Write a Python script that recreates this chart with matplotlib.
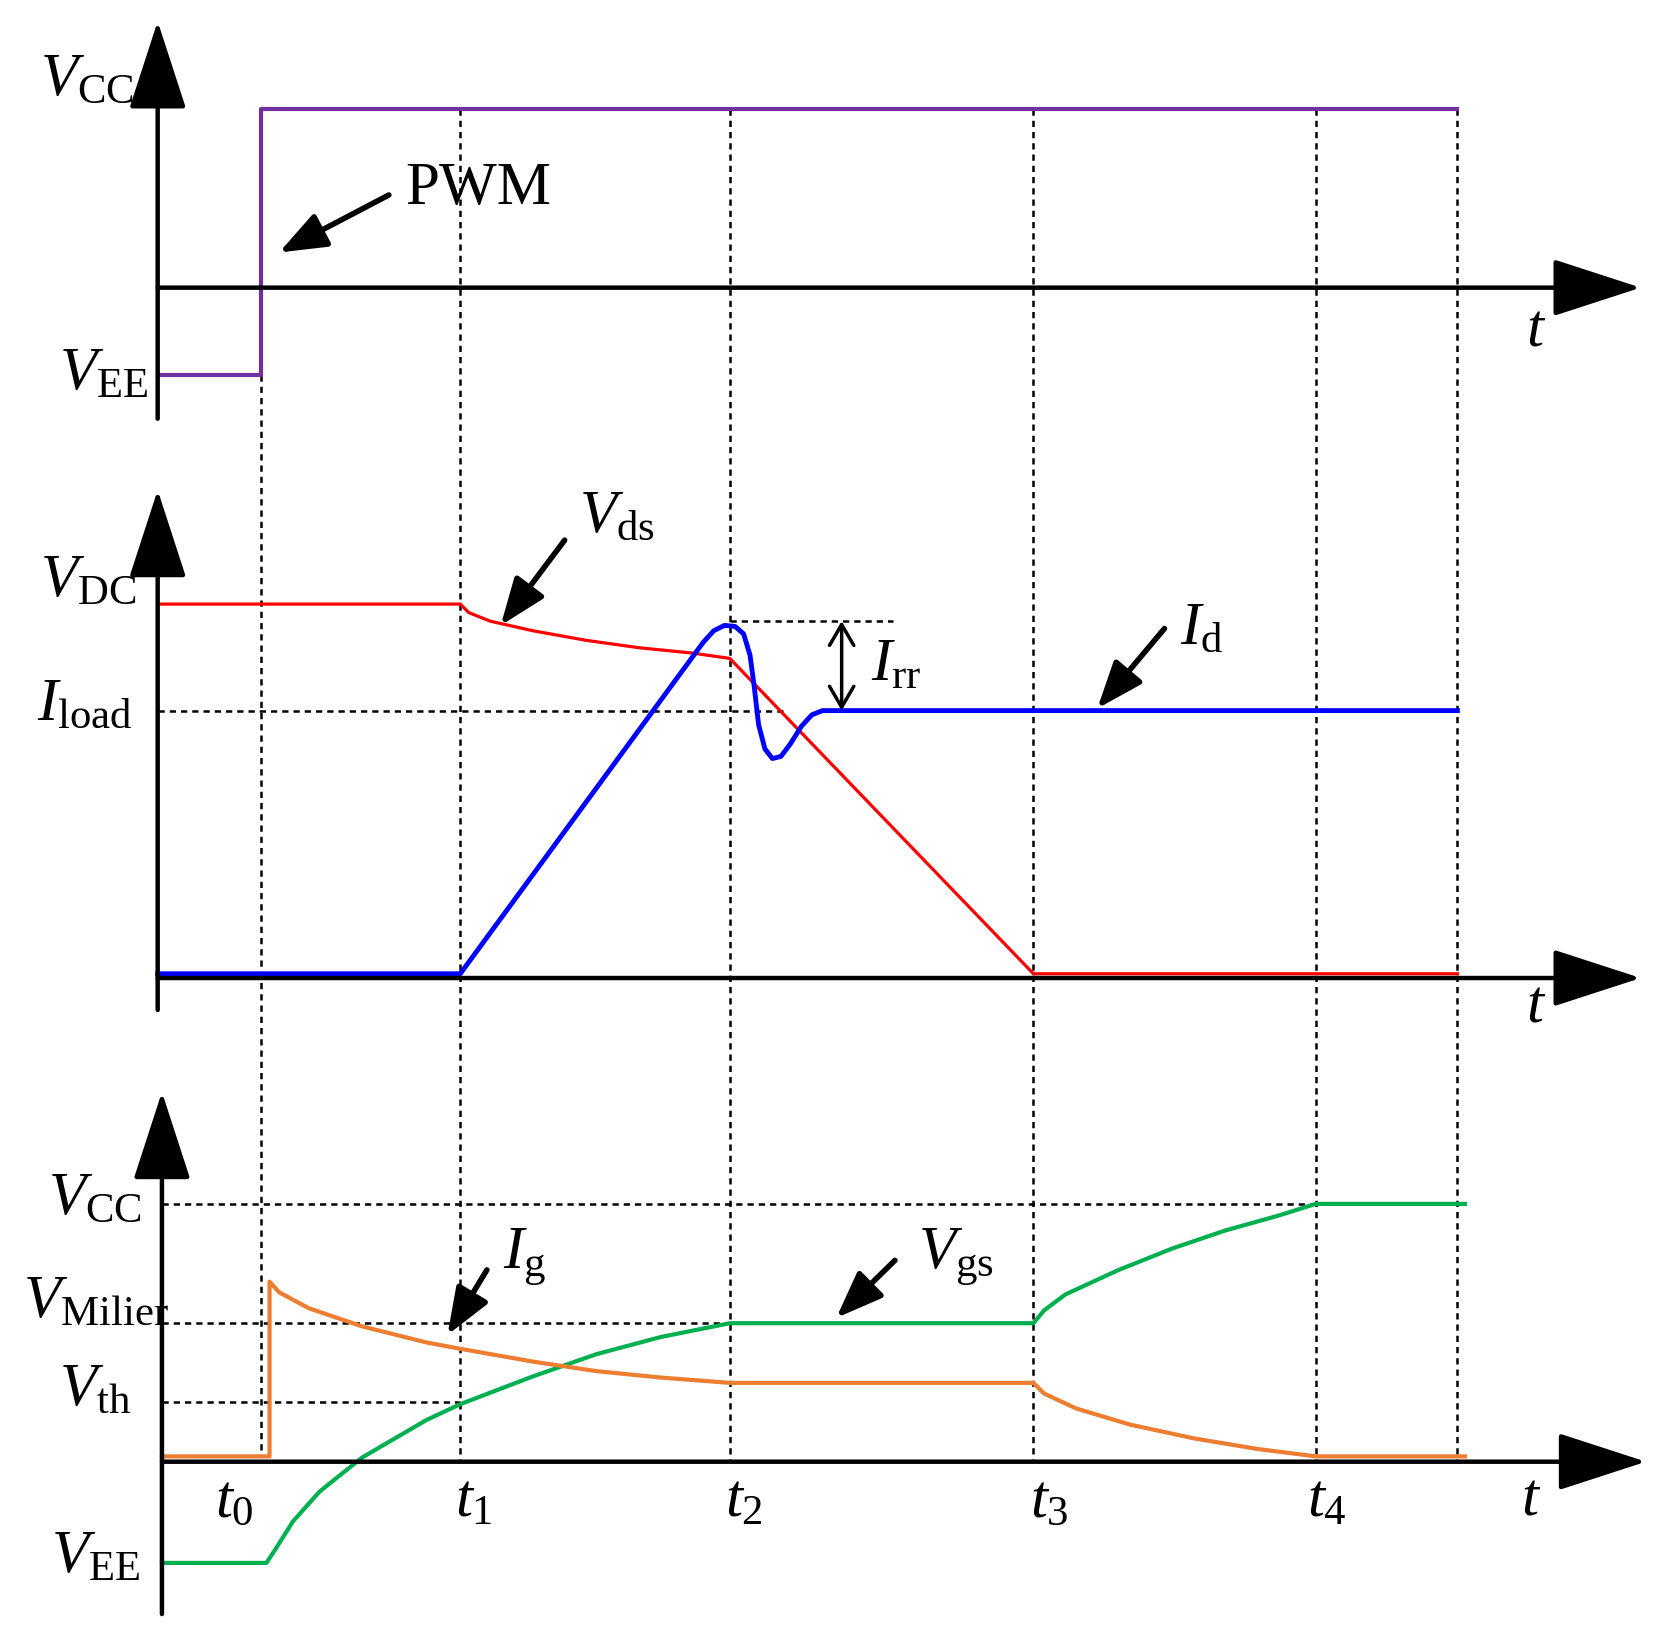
import matplotlib
matplotlib.use("Agg")
import matplotlib.pyplot as plt

plt.rcParams['mathtext.fontset'] = 'custom'
plt.rcParams['mathtext.rm'] = 'Liberation Serif'
plt.rcParams['mathtext.it'] = 'Liberation Serif:italic'
plt.rcParams['font.family'] = 'Liberation Serif'

# Key time instants (x positions) and end of traces
t_marks = [245, 432, 685, 970, 1235, 1368]
t_labels = ['$t_0$', '$t_1$', '$t_2$', '$t_3$', '$t_4$']
t_label_x = [220, 445, 698, 985, 1245]

# Panel 1: PWM
pwm_x = [148, 245, 245, 1368]
pwm_y = [352, 352, 102, 102]

# Panel 2: Vds and Id
vds_x = [148, 432, 440, 460, 500, 550, 600, 650, 685, 970, 1368]
vds_y = [567, 567, 575, 583, 592, 601, 608, 613, 618, 914, 914]
id_x = [148, 432, 660, 670, 680, 690, 698, 704, 708, 712, 718, 725, 733, 742, 752, 762, 772, 1368]
id_y = [914, 914, 603, 592, 587, 588, 595, 615, 645, 680, 703, 712, 710, 698, 682, 671, 667, 667]

# Panel 3: Vgs and Ig
vgs_x = [152, 250, 258, 275, 300, 340, 400, 432, 500, 560, 620, 685, 970, 980, 1000, 1050, 1100, 1150, 1200, 1235, 1375]
vgs_y = [1467, 1467, 1455, 1428, 1400, 1368, 1333, 1318, 1292, 1271, 1255, 1242, 1242, 1230, 1215, 1192, 1172, 1155, 1141, 1130, 1130]
ig_x = [152, 253, 253, 262, 290, 340, 400, 432, 500, 560, 620, 685, 970, 980, 1010, 1060, 1120, 1180, 1235, 1375]
ig_y = [1367, 1367, 1203, 1213, 1228, 1245, 1260, 1266, 1278, 1287, 1293, 1298, 1298, 1308, 1322, 1337, 1350, 1360, 1367, 1367]

fig = plt.figure(figsize=(16.62, 16.25), dpi=100)
ax = fig.add_axes([0, 0, 1, 1])
S = 1560 / 1662
ax.set_xlim(0, 1662 * S)
ax.set_ylim(1625 * S, 0)
ax.axis('off')

K = 'black'
dash = dict(color=K, lw=1.8, ls=(0, (2.5, 2)))

ax.plot([245, 245], [352, 1367], **dash)
for x in t_marks[1:]:
    ax.plot([x, x], [102, 1370], **dash)
ax.plot([148, 740], [667, 667], **dash)
ax.plot([685, 838], [583, 583], **dash)
ax.plot([152, 1235], [1130, 1130], **dash)
ax.plot([152, 685], [1242, 1242], **dash)
ax.plot([152, 432], [1316, 1316], **dash)

def axis_arrow(x0, y0, x1, y1):
    ax.annotate('', xy=(x1, y1), xytext=(x0, y0),
                arrowprops=dict(arrowstyle='-|>,head_length=2.0,head_width=0.65',
                                mutation_scale=28, lw=3.2, color=K, shrinkA=0, shrinkB=0))

axis_arrow(148, 393, 148, 20); axis_arrow(148, 270, 1540, 270)
axis_arrow(148, 948, 148, 460); axis_arrow(148, 918, 1540, 918)
axis_arrow(152, 1515, 152, 1025); axis_arrow(152, 1372, 1545, 1372)

ax.plot(pwm_x, pwm_y, color='#7030A0', lw=3)
ax.plot(vds_x, vds_y, color='#FF0000', lw=2.3)
ax.plot(id_x, id_y, color='#0000FF', lw=3.5)
ax.plot(vgs_x, vgs_y, color='#00B050', lw=3)
ax.plot(ig_x, ig_y, color='#ED7D31', lw=3)

ax.annotate('', xy=(790, 583), xytext=(790, 667),
            arrowprops=dict(arrowstyle='<->,head_length=0.6,head_width=0.35',
                            mutation_scale=25, lw=2.5, color=K, shrinkA=0, shrinkB=0))

def pointer(x0, y0, x1, y1):
    ax.annotate('', xy=(x1, y1), xytext=(x0, y0),
                arrowprops=dict(arrowstyle='-|>,head_length=1.3,head_width=0.5',
                                mutation_scale=22, lw=4, color=K, shrinkA=0, shrinkB=0))

pointer(365, 183, 262, 237)
pointer(530, 507, 470, 587)
pointer(1093, 590, 1030, 665)
pointer(457, 1192, 420, 1253)
pointer(840, 1183, 785, 1237)

fs = 44
def lab(x, y, s, ha='left'):
    ax.text(x, y, s, fontsize=fs, ha=ha, va='center')

lab(38, 75, r'$V_{\rm CC}$')
lab(55, 352, r'$V_{\rm EE}$')
lab(380, 178, 'PWM')
lab(1432, 310, r'$t$')
lab(38, 545, r'$V_{\rm DC}$')
lab(35, 662, r'$I_{\rm load}$')
lab(543, 485, r'$V_{\rm ds}$')
lab(818, 625, r'$I_{\rm rr}$')
lab(1108, 590, r'$I_{\rm d}$')
lab(1432, 945, r'$t$')
lab(45, 1125, r'$V_{\rm CC}$')
lab(22, 1222, r'$V_{\rm Milier}$')
lab(55, 1305, r'$V_{\rm th}$')
lab(48, 1462, r'$V_{\rm EE}$')
lab(472, 1180, r'$I_{\rm g}$')
lab(862, 1180, r'$V_{\rm gs}$')
lab(1428, 1408, r'$t$')
for x, s in zip(t_label_x, t_labels):
    lab(x, 1410, s, ha='center')

fig.savefig('out.png', dpi=100)
